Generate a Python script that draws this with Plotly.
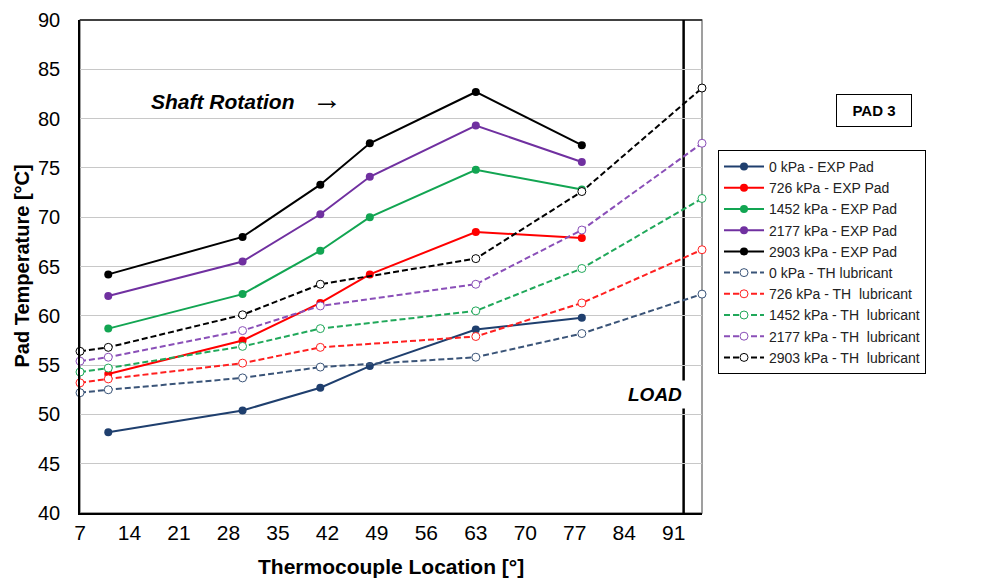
import plotly.graph_objects as go

exp_x = [11, 30, 41, 48, 63, 78]
th_x = [7, 11, 30, 41, 63, 78, 95]

exp_0 = [48.2, 50.4, 52.7, 54.9, 58.6, 59.8]
exp_726 = [54.1, 57.5, 61.3, 64.2, 68.5, 67.9]
exp_1452 = [58.7, 62.2, 66.6, 70.0, 74.8, 72.8]
exp_2177 = [62.0, 65.5, 70.3, 74.1, 79.3, 75.6]
exp_2903 = [64.2, 68.0, 73.3, 77.5, 82.7, 77.3]

th_0 = [52.2, 52.5, 53.7, 54.8, 55.8, 58.2, 62.2]
th_726 = [53.2, 53.6, 55.2, 56.8, 57.9, 61.3, 66.7]
th_1452 = [54.3, 54.7, 56.9, 58.7, 60.5, 64.8, 71.9]
th_2177 = [55.4, 55.8, 58.5, 61.0, 63.2, 68.7, 77.5]
th_2903 = [56.4, 56.8, 60.1, 63.2, 65.8, 72.6, 83.1]

exp_names = ["0 kPa - EXP Pad", "726 kPa - EXP Pad", "1452 kPa - EXP Pad",
             "2177 kPa - EXP Pad", "2903 kPa - EXP Pad"]
th_names = ["0 kPa - TH lubricant", "726 kPa - TH  lubricant", "1452 kPa - TH  lubricant",
            "2177 kPa - TH  lubricant", "2903 kPa - TH  lubricant"]
colors = ["#1F3F6E", "#FF0000", "#12A552", "#7030A0", "#000000"]
th_colors = ["#3A5478", "#FF2020", "#20A85A", "#8A4FB8", "#000000"]

x_ticks = list(range(7, 92, 7))
y_ticks = list(range(40, 91, 5))
load_x = 92.4

# page body has an 8px margin, so figure coords = screen coords - 8
OFF = 8
PL, PR, PT, PB = 80 - OFF, 702 - OFF, 20 - OFF, 513 - OFF
W, H = 985 - OFF, 582 - OFF


def px(xs):
    return (xs - OFF - PL) / (PR - PL)


def py(ys):
    return (PB - (ys - OFF)) / (PB - PT)


fig = go.Figure()
for name, ys, c in zip(exp_names, [exp_0, exp_726, exp_1452, exp_2177, exp_2903], colors):
    fig.add_trace(go.Scatter(x=exp_x, y=ys, name=name, mode="lines+markers",
                             line=dict(color=c, width=2),
                             marker=dict(color=c, size=8, symbol="circle")))
for name, ys, c in zip(th_names, [th_0, th_726, th_1452, th_2177, th_2903], th_colors):
    fig.add_trace(go.Scatter(x=th_x, y=ys, name=name, mode="lines+markers",
                             line=dict(color=c, width=2, dash="6px,3px"),
                             marker=dict(color="white", size=8, symbol="circle",
                                         line=dict(color=c, width=1)),
                             cliponaxis=False))

fig.add_shape(type="rect", xref="paper", yref="paper", x0=0, x1=1, y0=0, y1=1,
              line=dict(color="#808080", width=1.5), layer="below")
fig.add_shape(type="line", xref="paper", yref="paper", x0=0, x1=1, y0=1, y1=1,
              line=dict(color="#222222", width=1.5), layer="below")
fig.add_shape(type="line", xref="x", yref="paper", x0=load_x, x1=load_x, y0=0, y1=1,
              line=dict(color="black", width=2.5), layer="below")

fig.add_annotation(x=load_x + 0.35, y=52.0, xref="x", yref="y",
                   xanchor="right", yanchor="middle",
                   text="<b><i>LOAD</i></b>", showarrow=False,
                   font=dict(size=19, color="black", family="Arial"),
                   bgcolor="white", borderpad=3)
fig.add_annotation(x=30.6, y=82.0, xref="x", yref="y", xanchor="center", yanchor="middle",
                   text="<b><i>Shaft Rotation</i></b>   <span style='font-size:30px'>\u2192</span>",
                   showarrow=False, font=dict(size=21, color="black", family="Arial"))
fig.add_annotation(x=px(874), y=py(111), xref="paper", yref="paper",
                   xanchor="center", yanchor="middle",
                   text="<b>PAD 3</b>", showarrow=False, width=72, height=29,
                   font=dict(size=15, color="black", family="Arial"),
                   bordercolor="black", borderwidth=1, bgcolor="white")
fig.add_annotation(x=px(21), y=0.5, xref="paper", yref="paper", textangle=-90,
                   xanchor="center", yanchor="middle",
                   text="<b>Pad Temperature [°C]</b>", showarrow=False,
                   font=dict(size=20, color="black", family="Arial"))
fig.add_annotation(x=px(391), y=py(566), xref="paper", yref="paper",
                   xanchor="center", yanchor="middle",
                   text="<b>Thermocouple Location [°]</b>", showarrow=False,
                   font=dict(size=21, color="black", family="Arial"))

fig.update_layout(
    width=W, height=H,
    margin=dict(l=PL, r=W - PR, t=PT, b=H - PB),
    paper_bgcolor="white", plot_bgcolor="white",
    font=dict(family="Arial", color="black"),
    showlegend=True,
    legend=dict(x=px(718), y=py(150), xanchor="left", yanchor="top",
                bordercolor="black", borderwidth=1, bgcolor="white",
                font=dict(size=14, family="Arial", color="#222222"),
                tracegroupgap=0, itemwidth=40),
    xaxis=dict(range=[7, 95], tickmode="array", tickvals=x_ticks,
               ticktext=[str(v) for v in x_ticks], showgrid=False, zeroline=False,
               showline=True, linecolor="black", linewidth=1.5, automargin=False,
               ticks="", tickfont=dict(size=21, family="Arial"), layer="above traces",
               ticklabeloverflow="allow"),
    yaxis=dict(range=[40, 90], tickmode="array", tickvals=y_ticks,
               showgrid=True, gridcolor="#C8C8C8", gridwidth=1, zeroline=False,
               showline=True, linecolor="black", linewidth=1.5, automargin=False,
               ticks="outside", ticklen=14, tickcolor="rgba(0,0,0,0)",
               tickfont=dict(size=20, family="Arial"), layer="above traces",
               ticklabeloverflow="allow"),
)

fig.write_html("out.html")
